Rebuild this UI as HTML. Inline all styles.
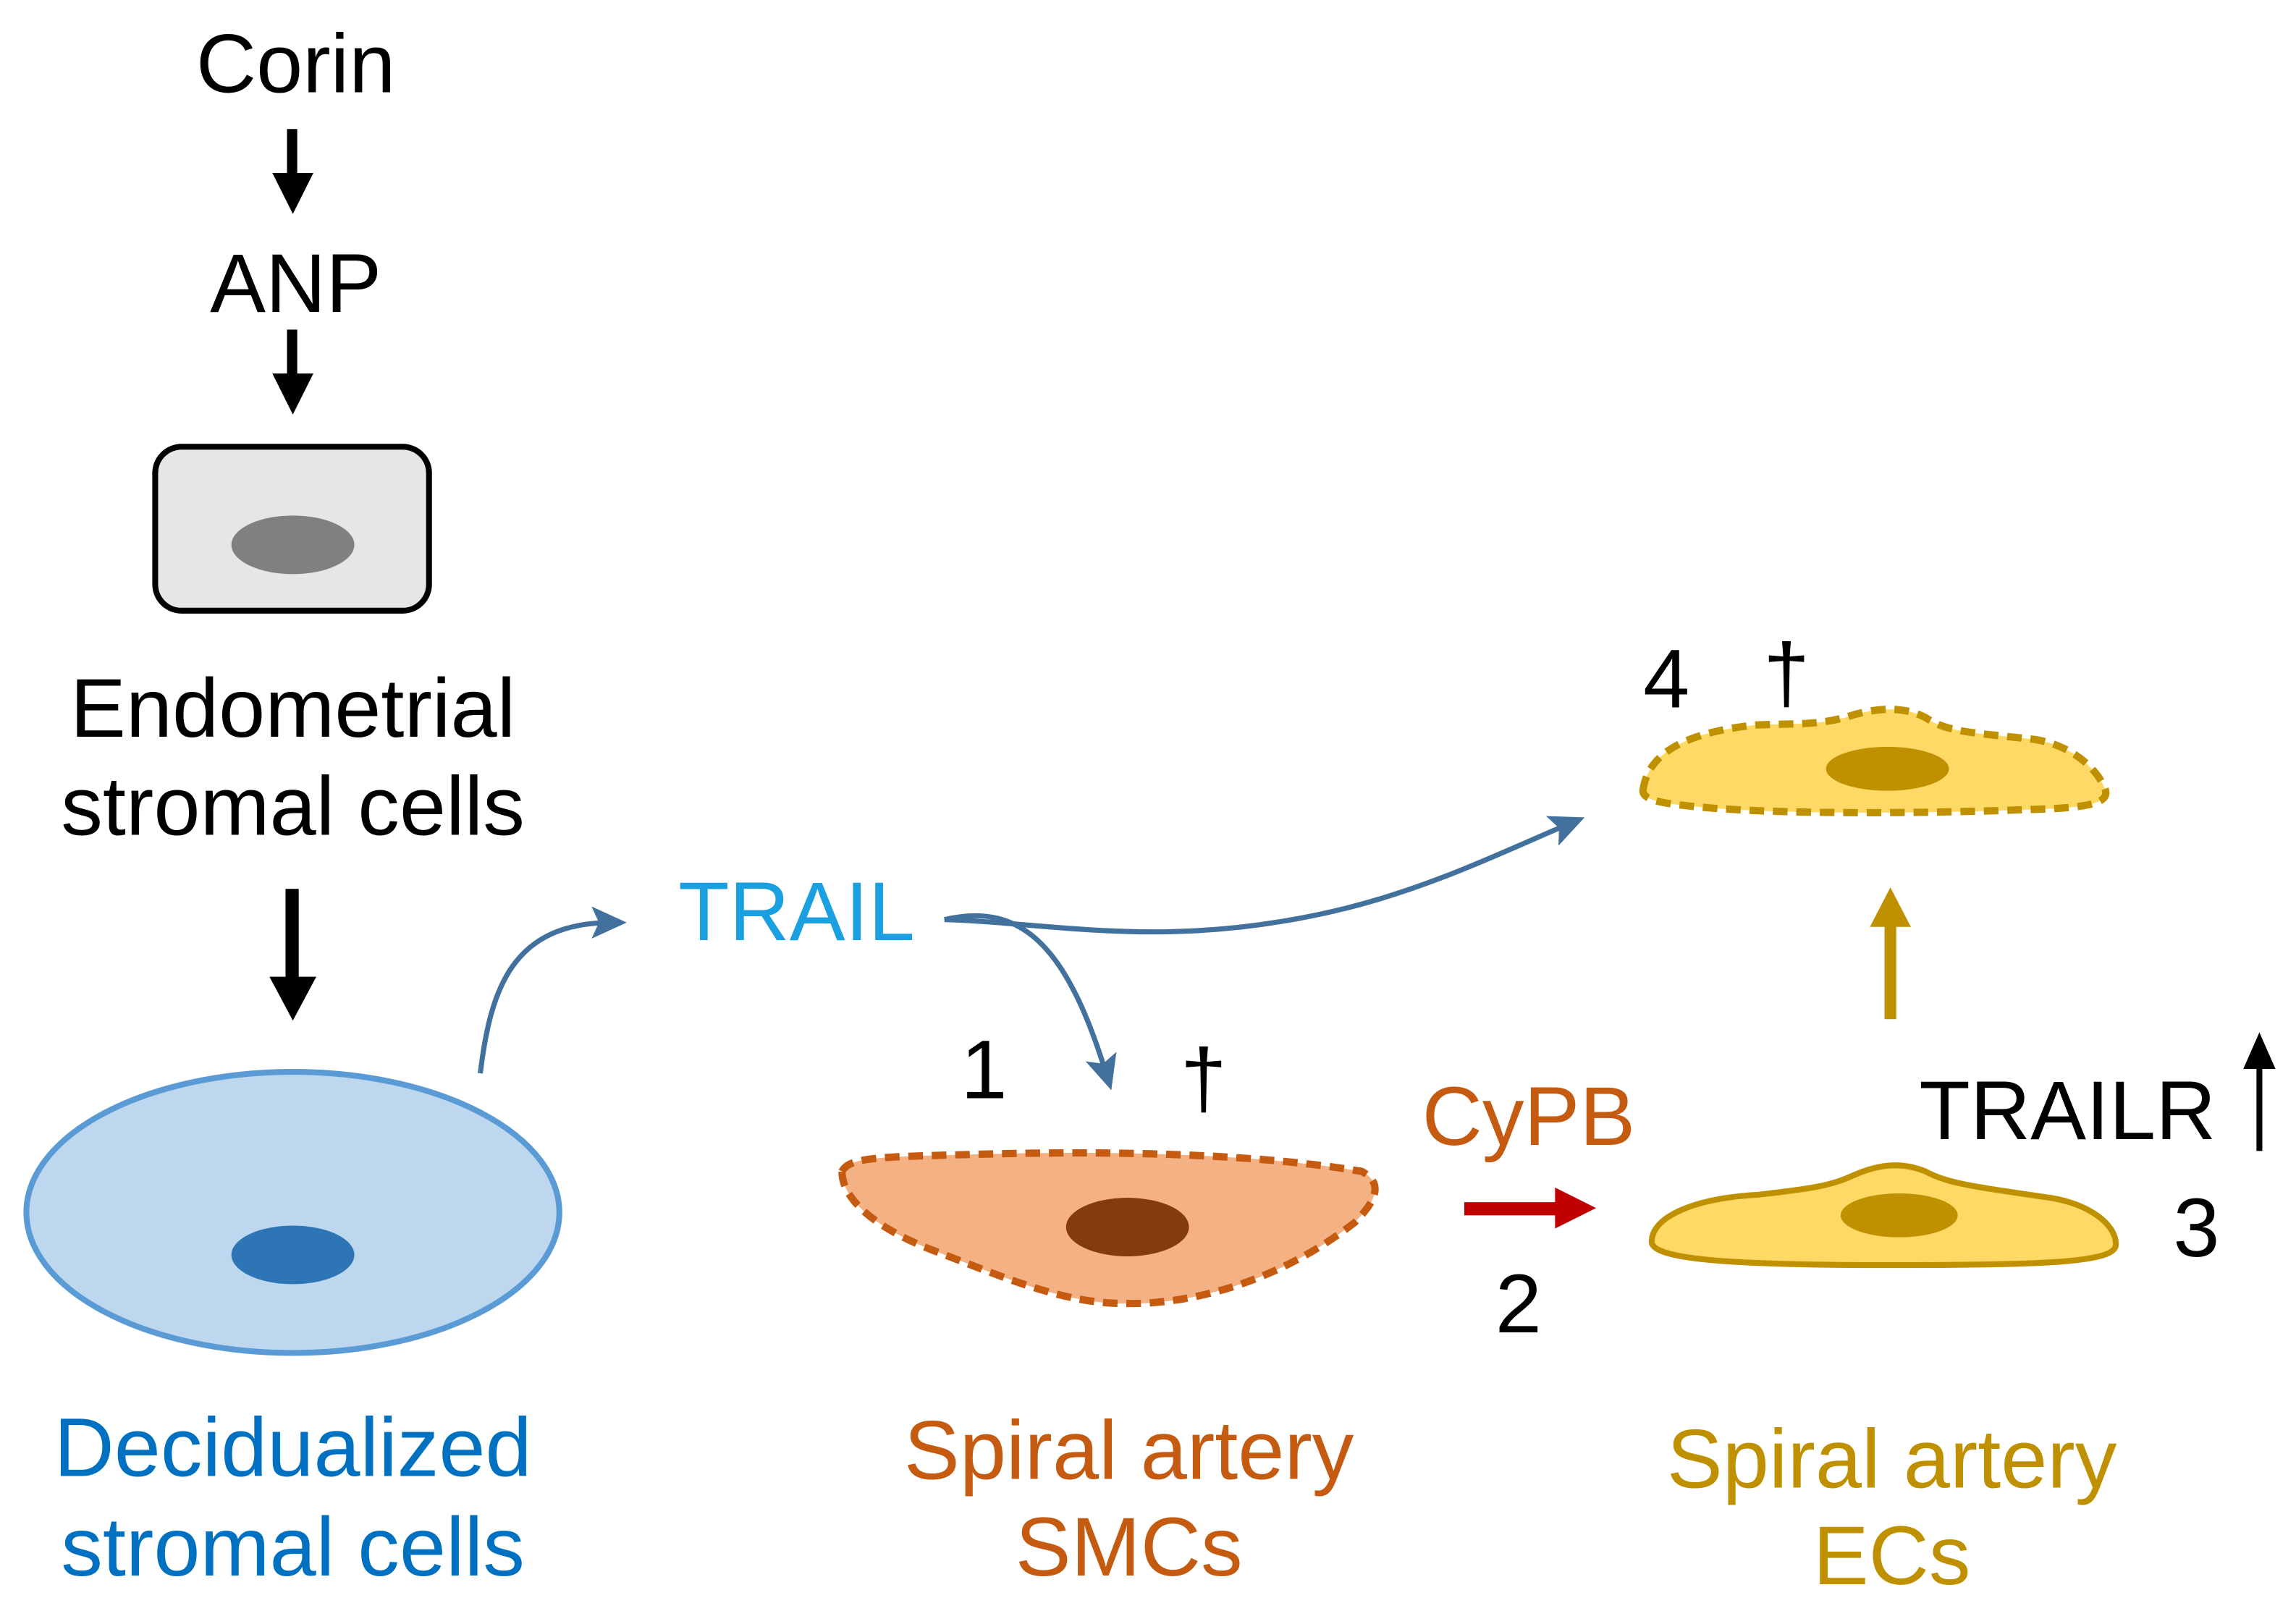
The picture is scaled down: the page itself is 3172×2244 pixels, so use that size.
<!DOCTYPE html>
<html><head><style>html,body{margin:0;padding:0;background:#fff}svg{display:block}</style></head><body>
<svg width="3172" height="2244" viewBox="0 0 1568 1109" xmlns="http://www.w3.org/2000/svg" font-family="Liberation Sans, Arial, sans-serif">
<defs>
<marker id="ab" markerWidth="24" markerHeight="22" refX="14" refY="11" orient="auto" markerUnits="userSpaceOnUse" viewBox="0 0 24 22"><path d="M0,0 L24,11 L0,22 L5,11 z" fill="#41719c"/></marker>
</defs>
<g font-size="57" text-anchor="middle">
<text x="202" y="63">Corin</text>
<text x="202" y="213">ANP</text>
<text x="200" y="503">Endometrial</text>
<text x="200" y="570">stromal cells</text>
<text x="200" y="1008" fill="#0070c0">Decidualized</text>
<text x="200" y="1076" fill="#0070c0">stromal cells</text>
<text x="544" y="642" fill="#1a9fe0">TRAIL</text>
<text x="771" y="1010" fill="#c55a11">Spiral artery</text>
<text x="771" y="1076" fill="#c55a11">SMCs</text>
<text x="1292" y="1016" fill="#bf9000">Spiral artery</text>
<text x="1292" y="1082" fill="#bf9000">ECs</text>
<text x="1044" y="782" fill="#c55a11">CyPB</text>
<text x="1412" y="778">TRAILR</text>
<text x="672" y="750">1</text>
<text x="822" y="756">†</text>
<text x="1037" y="910">2</text>
<text x="1500" y="858">3</text>
<text x="1138" y="483">4</text>
<text x="1220" y="479">†</text>
</g>
<g fill="#000">
<rect x="196" y="88" width="7" height="32"/><path d="M186,118 L214,118 L200,146 z"/>
<rect x="196" y="225" width="7" height="32"/><path d="M186,255 L214,255 L200,283 z"/>
<rect x="195" y="607" width="9" height="62"/><path d="M184,667 L216,667 L200,697 z"/>
<rect x="1541" y="728" width="4" height="58"/><path d="M1532,730 L1554,730 L1543,705 z"/>
</g>
<rect x="106" y="305" width="187" height="112" rx="18" fill="#e7e6e6" stroke="#000" stroke-width="4"/>
<ellipse cx="200" cy="372" rx="42" ry="20" fill="#808080"/>
<ellipse cx="200" cy="828" rx="182" ry="96" fill="#bdd7ee" stroke="#5b9bd5" stroke-width="4"/>
<ellipse cx="200" cy="857" rx="42" ry="20" fill="#2e75b6"/>
<g fill="none" stroke="#41719c" stroke-width="3.5">
<path d="M328,733 C335,675 350,630 418,630" marker-end="url(#ab)"/>
<path d="M645,628 C700,615 730,650 756,735" marker-end="url(#ab)"/>
<path d="M645,628 C720,630 800,650 920,620 C980,605 1030,580 1073,562" marker-end="url(#ab)"/>
</g>
<path d="M575,800 C580,790 600,790 680,788 C760,786 860,788 930,800 C945,808 940,820 925,835 C880,870 820,893 760,890 C720,888 680,870 640,855 C600,840 575,820 575,800 z" fill="#f4b183" stroke="#c55a11" stroke-width="5" stroke-dasharray="10,6"/>
<ellipse cx="770" cy="838" rx="42" ry="20" fill="#843c0c"/>
<rect x="1000" y="821" width="64" height="9" fill="#c00000"/><path d="M1062,811 L1090,825 L1062,839 z" fill="#c00000"/>
<path d="M1128,848 C1128,830 1160,818 1200,816 C1235,812 1250,810 1265,803 C1285,794 1300,794 1315,800 C1330,808 1345,810 1400,818 C1425,822 1445,835 1445,850 C1445,862 1400,864 1290,864 C1180,864 1128,860 1128,848 z" fill="#ffd966" stroke="#bf9000" stroke-width="4"/>
<ellipse cx="1297" cy="830" rx="40" ry="15" fill="#bf9000"/>
<rect x="1287" y="630" width="8" height="66" fill="#bf9000"/><path d="M1277,633 L1305,633 L1291,606 z" fill="#bf9000"/>
<path d="M1122,540 C1125,515 1150,500 1200,495 C1230,494 1240,495 1260,490 C1280,483 1300,482 1315,490 C1330,500 1345,500 1390,505 C1420,510 1435,530 1438,540 C1440,550 1420,552 1380,553 C1300,556 1200,556 1150,550 C1130,548 1122,545 1122,540 z" fill="#ffd966" stroke="#bf9000" stroke-width="5" stroke-dasharray="10,6"/>
<ellipse cx="1289" cy="525" rx="42" ry="15" fill="#bf9000"/>
</svg>
</body></html>
